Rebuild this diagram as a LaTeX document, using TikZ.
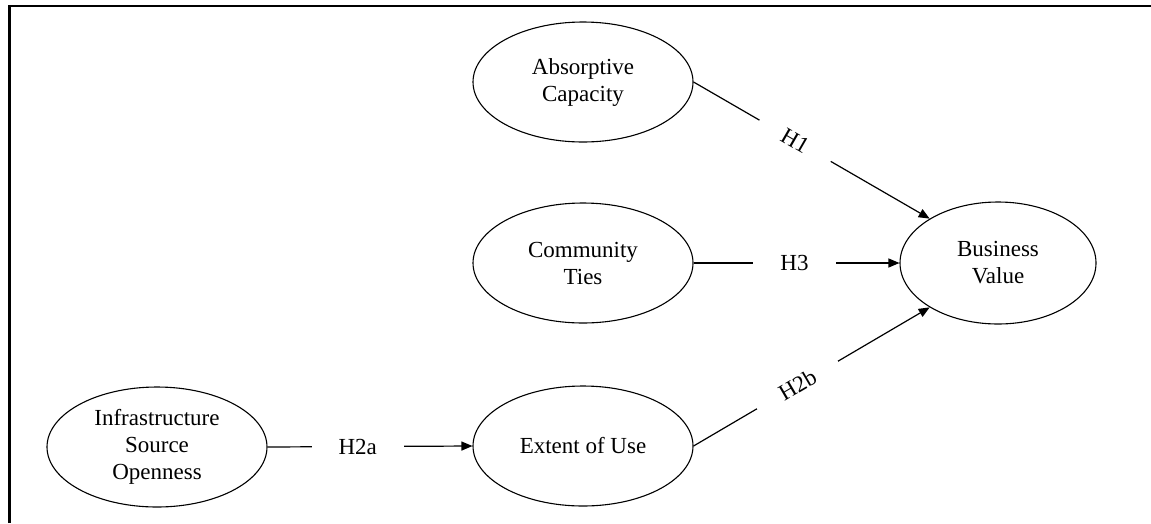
\documentclass[tikz,border=0pt]{standalone}
\usepackage{fontspec}
\setmainfont{Liberation Serif}
\usetikzlibrary{shapes.geometric, arrows.meta}
\tikzset{->, >={Triangle[length=11pt, width=9pt]},
  construct/.style = {ellipse, draw, line width=1.1pt, minimum width=220pt,
    minimum height=120pt, inner sep=0pt, align=center,
    font=\fontsize{23}{27}\selectfont},
  hyp/.style = {fill=white, inner xsep=27pt, inner ysep=1pt,
    font=\fontsize{23}{27}\selectfont},
  link/.style = {line width=1.2pt}}

\begin{document}
\begin{tikzpicture}[x=1pt, y=-1pt]
    \useasboundingbox (0,0) rectangle (1151,523);
    \draw[-, line width=2.5pt] (9.5,523) -- (9.5,6) -- (1151,6);

    \node[construct] (abs) at (583,82) {Absorptive\\Capacity};
    \node[construct] (comm) at (583,263) {Community\\Ties};
    \node[construct, minimum width=196pt, minimum height=122pt] (bv) at (998,263) {Business\\Value};
    \node[construct] (eou) at (583,446) {Extent of Use};
    \node[construct] (iso) at (157,447) {Infrastructure\\Source\\Openness};

    \draw[link] (abs.east) -- node[hyp, sloped, pos=0.43] {H1} (bv.147);
    \draw[link] (comm.east) -- node[hyp, pos=0.49] {H3} (bv.west);
    \draw[link] (eou.east) -- node[hyp, sloped, pos=0.44] {H2b} (bv.213);
    \draw[link] (iso.east) -- node[hyp, pos=0.44] {H2a} (eou.west);
\end{tikzpicture}
\end{document}
